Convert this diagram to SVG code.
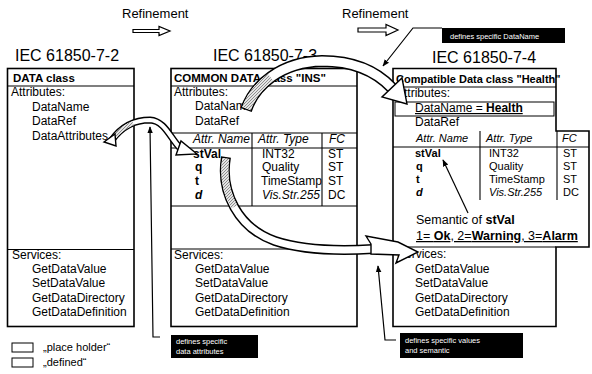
<svg xmlns="http://www.w3.org/2000/svg" width="592" height="374" viewBox="0 0 592 374">
<defs>
<style>
text{font-family:"Liberation Sans",Arial,Helvetica,sans-serif;font-size:12px;fill:#000}
.b{font-weight:bold}
.i{font-style:italic}
.hd{font-size:11.5px;font-weight:bold}
.hd3{font-size:11px;font-weight:bold}
.h{font-size:16px}
.r{font-size:13px}
.lg{font-size:11px}
.tb{font-size:11px}
.sm{font-size:12.5px}
.box{fill:#fff;stroke:#000;stroke-width:1.6}
.dv{stroke:#000;stroke-width:1.1;fill:none}
.ln{stroke:#000;stroke-width:1.2;fill:none}
.note{fill:#000}
.nt{fill:#fff;font-size:7.5px}
.bo{fill:none;stroke:#000;stroke-linecap:butt}
.bi{fill:none;stroke:#fff;stroke-linecap:butt}
.ah{fill:#fff;stroke:#000;stroke-width:1.4;stroke-linejoin:miter}
.ra{fill:#fff;stroke:#000;stroke-width:1.2}
</style>
<pattern id="hatch" width="3" height="3" patternUnits="userSpaceOnUse"><rect width="3" height="3" fill="#e4e4e4"/><path d="M0,3 L3,0" stroke="#777" stroke-width="0.8"/></pattern>
<marker id="tip" viewBox="0 0 10 10" refX="9" refY="5" markerWidth="7" markerHeight="7" markerUnits="userSpaceOnUse" orient="auto"><path d="M0,1 L10,5 L0,9 z" fill="#000"/></marker>
</defs>
<rect width="592" height="374" fill="#fff"/>

<g id="titles">
<text class="r" x="122" y="18">Refinement</text>
<path class="ra" d="M133,29.5 H159 V26.5 L170,31 L159,35.5 V32.5 H133 Z"/>
<text class="r" x="342" y="18">Refinement</text>
<path class="ra" d="M358,28 H386 V24.5 L398,30 L386,35.5 V32 H358 Z"/>
<text class="h" x="15" y="61">IEC 61850-7-2</text>
<text class="h" x="213" y="61">IEC 61850-7-3</text>
<text class="h" x="432" y="63">IEC 61850-7-4</text>
</g>

<g id="box-7-2">
<rect class="box" x="7.5" y="68.5" width="126.5" height="258"/>
<line class="dv" x1="7.5" y1="86" x2="134" y2="86"/>
<line class="dv" x1="7.5" y1="249.5" x2="134" y2="249.5"/>
<text class="hd" x="13" y="82">DATA class</text>
<text x="11" y="96">Attributes:</text>
<text x="32" y="111">DataName</text>
<text x="32" y="125">DataRef</text>
<text x="32" y="140">DataAttributes</text>
<text x="12" y="259">Services:</text>
<text x="32" y="273">GetDataValue</text>
<text x="32" y="287">SetDataValue</text>
<text x="32" y="302">GetDataDirectory</text>
<text x="32" y="316">GetDataDefinition</text>
</g>

<g id="box-7-3">
<rect class="box" x="171" y="68.5" width="186" height="258"/>
<line class="dv" x1="171" y1="86" x2="357" y2="86"/>
<line class="dv" x1="171" y1="133" x2="357" y2="133"/>
<line class="dv" x1="171" y1="148" x2="357" y2="148"/>
<line class="dv" x1="171" y1="206" x2="357" y2="206"/>
<line class="dv" x1="252" y1="133" x2="252" y2="206"/>
<line class="dv" x1="322" y1="133" x2="322" y2="206"/>
<line class="dv" x1="171" y1="249" x2="357" y2="249"/>
<text class="hd" x="174" y="82">COMMON DATA class "INS"</text>
<text x="174" y="96">Attributes:</text>
<text x="195" y="110">DataName</text>
<text x="195" y="125">DataRef</text>
<text class="i" x="193" y="143">Attr. Name</text>
<text class="i" x="258" y="143">Attr. Type</text>
<text class="i" x="329" y="143">FC</text>
<text class="b" x="193" y="158">stVal</text>
<text class="b" x="195" y="171">q</text>
<text class="b" x="195" y="185">t</text>
<text class="b i" x="195" y="199">d</text>
<text x="262" y="158">INT32</text>
<text x="262" y="171">Quality</text>
<text x="261" y="185">TimeStamp</text>
<text class="i" x="262" y="199">Vis.Str.255</text>
<text x="328" y="158">ST</text>
<text x="328" y="171">ST</text>
<text x="328" y="185">ST</text>
<text x="328" y="199">DC</text>
<text x="174" y="259">Services:</text>
<text x="195" y="273">GetDataValue</text>
<text x="195" y="287">SetDataValue</text>
<text x="195" y="302">GetDataDirectory</text>
<text x="195" y="316">GetDataDefinition</text>
</g>

<g id="box-7-4">
<path class="box" d="M393,68.5 H556 V131 H589 V247 H556 V326.5 H393 Z"/>
<line class="dv" x1="393" y1="87" x2="556" y2="87"/>
<rect x="395" y="102" width="159" height="14" fill="none" stroke="#000" stroke-width="1"/>
<line class="dv" x1="393" y1="147" x2="589" y2="147"/>
<line class="dv" x1="480" y1="131" x2="480" y2="200"/>
<line class="dv" x1="557" y1="131" x2="557" y2="200"/>
<line class="dv" x1="393" y1="247" x2="556" y2="247"/>
<text class="hd3" x="396" y="83">Compatible Data class "Health"</text>
<text x="396" y="97">Attributes:</text>
<text x="415" y="112" text-decoration="underline">DataName = <tspan class="b">Health</tspan></text>
<text x="415" y="126">DataRef</text>
<text class="i tb" x="416" y="142">Attr. Name</text>
<text class="i tb" x="486" y="142">Attr. Type</text>
<text class="i tb" x="562" y="142">FC</text>
<text class="b tb" x="415" y="157">stVal</text>
<text class="b tb" x="416" y="170">q</text>
<text class="b tb" x="416" y="183">t</text>
<text class="b i tb" x="416" y="196">d</text>
<text class="tb" x="489" y="157">INT32</text>
<text class="tb" x="489" y="170">Quality</text>
<text class="tb" x="489" y="183">TimeStamp</text>
<text class="i tb" x="489" y="196">Vis.Str.255</text>
<text class="tb" x="563" y="157">ST</text>
<text class="tb" x="563" y="170">ST</text>
<text class="tb" x="563" y="183">ST</text>
<text class="tb" x="563" y="196">DC</text>
<text class="sm" x="416" y="224">Semantic of <tspan class="b">stVal</tspan></text>
<text class="sm" x="416" y="240" text-decoration="underline">1= <tspan class="b">Ok</tspan>, 2=<tspan class="b">Warning</tspan>, 3=<tspan class="b">Alarm</tspan></text>
<text x="397" y="258">Services:</text>
<text x="415" y="273">GetDataValue</text>
<text x="415" y="287">SetDataValue</text>
<text x="415" y="302">GetDataDirectory</text>
<text x="415" y="316">GetDataDefinition</text>
</g>

<g id="legend">
<rect x="12" y="343" width="21" height="9" fill="#fff" stroke="#000" stroke-width="1"/>
<text class="lg" x="43" y="351">„place holder“</text>
<rect x="12" y="358" width="21" height="9" fill="#fff" stroke="#000" stroke-width="1"/>
<text class="lg" x="43" y="366">„defined“</text>
</g>

<g id="note-attributes">
<rect class="note" x="171" y="335" width="87" height="23"/>
<text class="nt" x="176" y="344">defines specific</text>
<text class="nt" x="176" y="354">data attributes</text>
</g>
<g id="note-values">
<rect class="note" x="400" y="333" width="123" height="25"/>
<text class="nt" x="405" y="343">defines specific values</text>
<text class="nt" x="405" y="353">and semantic</text>
</g>
<g id="note-dataname">
<rect class="note" x="442" y="28" width="123" height="15"/>
<text class="nt" x="450" y="38.5">defines specific DataName</text>
</g>

<g id="connectors">
<path class="bo" stroke-width="7" d="M112,140 C122,126 136,120 150,120 C165,121 170,138 180,148"/>
<path class="bi" stroke-width="4.2" stroke-dasharray="0 1.2 3000" d="M112,140 C122,126 136,120 150,120 C165,121 170,138 180,148"/>
<path fill="none" stroke="url(#hatch)" stroke-width="4.2" stroke-dasharray="0 1.2 26 3000" d="M112,140 C122,126 136,120 150,120 C165,121 170,138 180,148"/>
<polygon class="ah" points="104,142 115,134 116,146"/>
<polygon class="ah" points="197,154 181,141 176,155"/>

<path class="bo" stroke-width="12" d="M246,110 C254,86 280,62 322,61 C354,61 377,72 392,88"/>
<path class="bi" stroke-width="9" stroke-dasharray="0 1.5 3000" d="M246,110 C254,86 280,62 322,61 C354,61 377,72 392,88"/>
<path fill="none" stroke="url(#hatch)" stroke-width="9" stroke-dasharray="0 1.5 40 3000" d="M246,110 C254,86 280,62 322,61 C354,61 377,72 392,88"/>
<polygon class="ah" points="407,104 382,97 402,78"/>

<path class="bo" stroke-width="10" d="M226,157 C220,192 238,228 275,241 C305,251 340,251 373,249"/>
<path class="bi" stroke-width="7" stroke-dasharray="0 1.5 3000" d="M226,157 C220,192 238,228 275,241 C305,251 340,251 373,249"/>
<path fill="none" stroke="url(#hatch)" stroke-width="7" stroke-dasharray="0 1.5 50 3000" d="M226,157 C220,192 238,228 275,241 C305,251 340,251 373,249"/>
<polygon class="ah" points="371,244 366,236 398,242 418,252 396,263 399,255 371,254"/>

<polyline class="ln" points="160,337 153,337 150,127" marker-end="url(#tip)"/>
<polyline class="ln" points="396,340 385,340 378,266" marker-end="url(#tip)"/>
<polyline class="ln" points="442,28 413,28 383,66" marker-end="url(#tip)"/>
<line class="ln" x1="468" y1="213" x2="443" y2="160" marker-end="url(#tip)"/>
</g>
</svg>
